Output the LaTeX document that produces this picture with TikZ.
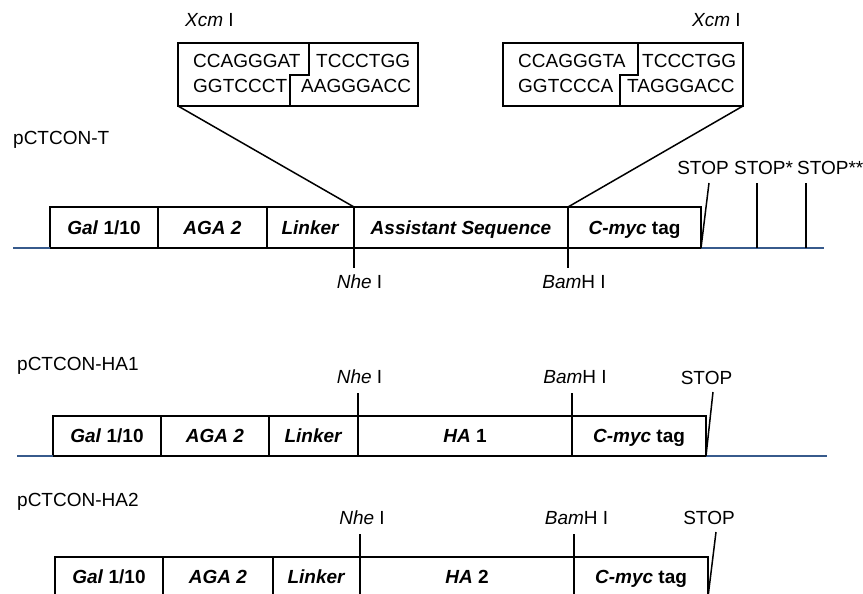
\documentclass[tikz,border=0pt]{standalone}
\usepackage{fontspec}
\setmainfont{Liberation Sans}
\definecolor{basecol}{RGB}{55,90,140}
\begin{document}
\begin{tikzpicture}[x=1pt,y=-1pt,
  seg/.style={draw, line width=1.5pt, minimum height=41pt, inner sep=0pt, outer sep=0pt,
    text height=13.6pt, text depth=0pt, font=\fontsize{19}{22}\selectfont\bfseries},
  lbl/.style={font=\fontsize{19}{22}\selectfont, inner sep=0pt, anchor=base},
  seqtxt/.style={lbl, anchor=base west},
  ln/.style={line width=1.5pt},
  bl/.style={line width=1.4pt, draw=basecol},
  xbox/.style={draw, line width=1.5pt, minimum width=240pt, minimum height=63pt, inner sep=0pt, outer sep=0pt}]
\useasboundingbox (0,0) rectangle (863,594);
\clip (0,0) rectangle (863,594);

% ---------- pCTCON-T ----------
\node[seqtxt] (tT) at (13,144) {pCTCON-T};
\node[seg, minimum width=108pt] (g1) at (104,227.5) {\textit{Gal} 1/10};
\node[seg, minimum width=109pt] (a1) at (212.5,227.5) {\textit{AGA 2}};
\node[seg, minimum width=87pt] (l1) at (310.5,227.5) {\textit{Linker}};
\node[seg, minimum width=214pt] (m1) at (461,227.5) {\textit{Assistant Sequence}};
\node[seg, minimum width=133pt] (c1) at (634.5,227.5) {\textit{C-myc} tag};

\coordinate (b1l) at (13,248);
\coordinate (b1r) at (824,248);
\draw[bl] (b1l) -- (g1.south west);
\draw[bl] (c1.south east) -- (b1r);

% Xcm I boxes
\node[lbl, anchor=base west] (xclt) at (185,27) {\textit{Xcm} I};
\node[xbox] (xl) at (298,74.5) {};
\draw[ln] (309,43) -- (309,75) -- (290,75) -- (290,106);
\node[seqtxt] (xl1) at (193,68) {CCAGGGAT};
\node[seqtxt] (xl2) at (316,68) {TCCCTGG};
\node[seqtxt] (xl3) at (193,93) {GGTCCCT};
\node[seqtxt] (xl4) at (301,93) {AAGGGACC};

\node[lbl, anchor=base west] (xcrt) at (692,27) {\textit{Xcm} I};
\node[xbox] (xr) at (623,74.5) {};
\draw[ln] (638,43) -- (638,75) -- (620,75) -- (620,106);
\node[seqtxt] (xr1) at (518,68) {CCAGGGTA};
\node[seqtxt] (xr2) at (642,68) {TCCCTGG};
\node[seqtxt] (xr3) at (518,93) {GGTCCCA};
\node[seqtxt] (xr4) at (627,93) {TAGGGACC};

\draw[ln] (xl.south west) -- (l1.north east);
\draw[ln] (xr.south east) -- (c1.north west);

% Nhe / BamH ticks
\coordinate (n1) at (354,268);
\coordinate (h1) at (568,268);
\draw[ln] (l1.south east) -- (n1);
\draw[ln] (m1.south east) -- (h1);
\node[lbl] (n1t) at (359.5,288) {\textit{Nhe} I};
\node[lbl] (h1t) at (574,288) {\textit{Bam}H I};

% STOP marks
\node[lbl] (st0) at (703,174) {STOP};
\node[lbl] (st1) at (763.5,174) {STOP*};
\node[lbl, anchor=base west] (st2) at (797,174) {STOP**};
\coordinate (s0) at (709,183);
\coordinate (s1t) at (757,183);
\coordinate (s1b) at (757,248);
\coordinate (s2t) at (806,183);
\coordinate (s2b) at (806,248);
\draw[ln] (c1.south east) -- (s0);
\draw[ln] (s1b) -- (s1t);
\draw[ln] (s2b) -- (s2t);

% ---------- pCTCON-HA1 ----------
\node[seqtxt] (tH1) at (17,370) {pCTCON-HA1};
\node[seg, minimum width=108pt, minimum height=40pt] (g2) at (107,436) {\textit{Gal} 1/10};
\node[seg, minimum width=108pt, minimum height=40pt] (a2) at (215,436) {\textit{AGA 2}};
\node[seg, minimum width=89pt, minimum height=40pt] (l2) at (313.5,436) {\textit{Linker}};
\node[seg, minimum width=214pt, minimum height=40pt] (m2) at (465,436) {\textit{HA} 1};
\node[seg, minimum width=134pt, minimum height=40pt] (c2) at (639,436) {\textit{C-myc} tag};

\coordinate (b2l) at (17,456);
\coordinate (b2r) at (827,456);
\draw[bl] (b2l) -- (g2.south west);
\draw[bl] (c2.south east) -- (b2r);

\coordinate (n2) at (358,393);
\coordinate (h2) at (572,393);
\draw[ln] (n2) -- (l2.north east);
\draw[ln] (h2) -- (m2.north east);
\node[lbl] (n2t) at (359.5,383) {\textit{Nhe} I};
\node[lbl] (h2t) at (575,383) {\textit{Bam}H I};
\node[lbl] (st3) at (706.5,384) {STOP};
\coordinate (s3) at (713,392);
\draw[ln] (c2.south east) -- (s3);

% ---------- pCTCON-HA2 ----------
\node[seqtxt] (tH2) at (17,506) {pCTCON-HA2};
\node[seg, minimum width=108pt, minimum height=40pt] (g3) at (109,577) {\textit{Gal} 1/10};
\node[seg, minimum width=110pt, minimum height=40pt] (a3) at (218,577) {\textit{AGA 2}};
\node[seg, minimum width=87pt, minimum height=40pt] (l3) at (316.5,577) {\textit{Linker}};
\node[seg, minimum width=214pt, minimum height=40pt] (m3) at (467,577) {\textit{HA} 2};
\node[seg, minimum width=134pt, minimum height=40pt] (c3) at (641,577) {\textit{C-myc} tag};

\coordinate (n3) at (360,534);
\coordinate (h3) at (574,534);
\draw[ln] (n3) -- (l3.north east);
\draw[ln] (h3) -- (m3.north east);
\node[lbl] (n3t) at (362,524) {\textit{Nhe} I};
\node[lbl] (h3t) at (576.5,524) {\textit{Bam}H I};
\node[lbl] (st4) at (709,524) {STOP};
\coordinate (s4) at (716,532);
\draw[ln] (c3.south east) -- (s4);
\end{tikzpicture}
\end{document}
